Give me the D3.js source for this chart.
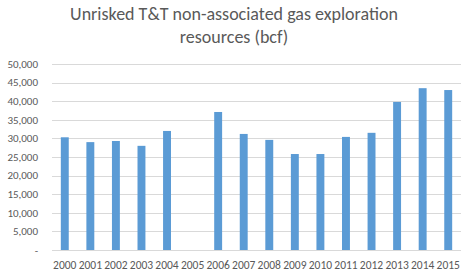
<!DOCTYPE html>
<html>
<head>
<meta charset="utf-8">
<script src="https://cdn.jsdelivr.net/npm/d3@7"></script>
<style>
  body { margin: 0; background: #fff; }
</style>
</head>
<body>
<script>
// chart data
const years = ["2000","2001","2002","2003","2004","2005","2006","2007",
               "2008","2009","2010","2011","2012","2013","2014","2015"];
const resources = [30300, 29000, 29300, 28000, 32000, 0, 37100, 31200,
                   29600, 25800, 25800, 30400, 31500, 39800, 43500, 43000];
const yTicks = [0, 5000, 10000, 15000, 20000, 25000, 30000, 35000, 40000, 45000, 50000];
const titleLines = ["Unrisked T&T non-associated gas exploration", "resources (bcf)"];

const width = 468, height = 276;
const margin = {top: 64, right: 7, bottom: 26, left: 52};

const svg = d3.select("body").append("svg")
    .attr("width", width)
    .attr("height", height)
    .attr("font-family", "Carlito, Calibri, 'Open Sans', sans-serif");

const x = d3.scaleBand()
    .domain(years)
    .range([margin.left, width - margin.right])
    .paddingInner(0.69)
    .paddingOuter(0.345);

const y = d3.scaleLinear()
    .domain([0, 50000])
    .range([height - margin.bottom, margin.top]);

// title
svg.append("g")
  .selectAll("text")
  .data(titleLines)
  .join("text")
    .attr("x", 234)
    .attr("y", (d, i) => 20 + i * 23)
    .attr("text-anchor", "middle")
    .attr("fill", "#595959")
    .attr("font-size", 18)
    .text(d => d);

// gridlines
svg.append("g")
  .selectAll("line")
  .data(yTicks)
  .join("line")
    .attr("x1", margin.left)
    .attr("x2", width - margin.right)
    .attr("y1", d => Math.round(y(d)) + 0.5)
    .attr("y2", d => Math.round(y(d)) + 0.5)
    .attr("stroke", "#d9d9d9")
    .attr("stroke-width", 1);

// y axis labels
const fmt = d3.format(",");
svg.append("g")
  .selectAll("text")
  .data(yTicks)
  .join("text")
    .attr("x", 38)
    .attr("y", d => y(d))
    .attr("dy", "0.35em")
    .attr("text-anchor", "end")
    .attr("fill", "#595959")
    .attr("font-size", 11)
    .text(d => d === 0 ? "-" : fmt(d));

// bars
svg.append("g")
  .selectAll("rect")
  .data(years.map((yr, i) => ({yr, v: resources[i]})).filter(d => d.v > 0))
  .join("rect")
    .attr("x", d => x(d.yr))
    .attr("width", x.bandwidth())
    .attr("y", d => y(d.v))
    .attr("height", d => y(0) - y(d.v))
    .attr("fill", "#5b9bd5");

// x axis labels
svg.append("g")
  .selectAll("text")
  .data(years)
  .join("text")
    .attr("x", d => x(d) + x.bandwidth() / 2)
    .attr("y", height - margin.bottom + 19)
    .attr("text-anchor", "middle")
    .attr("fill", "#595959")
    .attr("font-size", 11.5)
    .text(d => d);
</script>
</body>
</html>
